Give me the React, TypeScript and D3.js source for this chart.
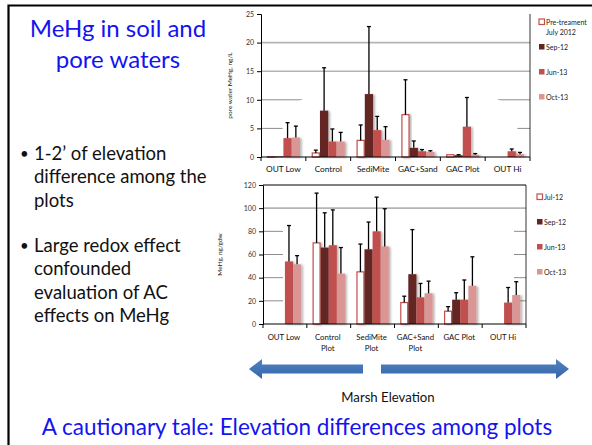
import React, { useEffect, useRef } from 'react'
import * as d3 from 'd3'

// categories / series
const categories = ['OUT Low', 'Control', 'SediMite', 'GAC+Sand', 'GAC Plot', 'OUT Hi']
const lowerLabels = [['OUT Low'], ['Control', 'Plot'], ['SediMite', 'Plot'], ['GAC+Sand', 'Plot'], ['GAC Plot'], ['OUT Hi']]
const seriesColors = ['#ffffff', '#632523', '#c0504d', '#d99694']

// pore water MeHg, ng/L (bar value, top of error bar)
const topLegend = [['Pre-treament', 'July 2012'], ['Sep-12'], ['Jun-13'], ['Oct-13']]
const topPre = [0.1, 0.7, 2.9, 7.4, 0.4, null]
const topPreErr = [null, 1.2, 5.6, 13.5, null, null]
const topSep = [0.1, 8.1, 11.0, 1.6, 0.3, null]
const topSepErr = [null, 15.6, 22.8, 2.8, 0.4, null]
const topJun = [3.3, 2.7, 4.7, 1.0, 5.3, 1.0]
const topJunErr = [6.0, 4.9, 7.1, 1.3, 10.4, 1.4]
const topOct = [3.4, 2.7, 3.0, 0.9, 0.4, 0.5]
const topOctErr = [5.4, 4.3, 5.3, 1.1, 0.6, 0.8]
const topTicks = [0, 5, 10, 15, 20, 25]

// soil MeHg, ng/gdw
const lowLegend = [['Jul-12'], ['Sep-12'], ['Jun-13'], ['Oct-13']]
const lowJul = [null, 70, 45, 18.5, 11, null]
const lowJulErr = [null, 113, 69, 24, 15, null]
const lowSep = [null, 66, 64.5, 43, 21, null]
const lowSepErr = [null, 96, 88, 81.5, 27, null]
const lowJun = [54, 68, 80, 23, 21, 18.5]
const lowJunErr = [85, 98.5, 109.5, 35, 38, 31.5]
const lowOct = [51.5, 43.5, 67, 26.5, 33, 25]
const lowOctErr = [59, 66, 99.5, 37, 58, 36.5]
const lowTicks = [0, 20, 40, 60, 80, 100, 120]

const blue = '#1414f0'
const chartFont = 'Lato, "Liberation Sans", sans-serif'

type Num = number | null

function drawChart(svg: any, opts: any) {
  const { x0, x1, y0, y1, max, ticks, values, errs, legend, legendY, legendX, yLabel, yLabelX, boxed, fullGrid, hole, xLabelY } = opts
  const g = svg.append('g')
  const x = d3.scaleBand().domain(categories).range([x0, x1])
  const inner = d3.scaleBand<number>().domain([0, 1, 2, 3])
    .range([x.bandwidth() * 0.13, x.bandwidth() * 0.87])
  const y = d3.scaleLinear().domain([0, max]).range([y0, y1])

  // gridlines
  g.selectAll('line.grid')
    .data(ticks.filter((t: number) => t > 0 && t < max))
    .enter().append('line')
    .attr('x1', x0).attr('x2', x1)
    .attr('y1', (d: number) => y(d)).attr('y2', (d: number) => y(d))
    .attr('stroke', (d: number) => fullGrid.includes(d) ? '#b4b4b4' : '#8c8c8c')
    .attr('stroke-width', (d: number) => fullGrid.includes(d) ? 1.6 : 1)

  // white patch that hides part of the grid in the original
  g.append('rect')
    .attr('x', hole[0]).attr('y', hole[1])
    .attr('width', hole[2]).attr('height', hole[3])
    .attr('rx', hole[4]).attr('fill', '#fff')

  // bars
  values.forEach((vals: Num[], s: number) => {
    vals.forEach((v, i) => {
      if (v == null) return
      const bx = (x(categories[i]) as number) + (inner(s) as number)
      const bw = inner.bandwidth()
      g.append('rect')
        .attr('x', bx + (s === 0 ? 0.6 : 0)).attr('y', y(v))
        .attr('width', bw - (s === 0 ? 1.2 : 0))
        .attr('height', Math.max(0.8, y0 - y(v)))
        .attr('fill', seriesColors[s])
        .attr('stroke', s === 0 ? '#c0504d' : 'none')
        .attr('stroke-width', 1.2)
        .attr('filter', 'url(#shadow)')
      const e = errs[s][i]
      if (e != null) {
        const cx = bx + bw / 2
        g.append('line').attr('x1', cx).attr('x2', cx)
          .attr('y1', y(v)).attr('y2', y(e))
          .attr('stroke', '#000').attr('stroke-width', 1.3)
        g.append('line').attr('x1', cx - 2).attr('x2', cx + 2)
          .attr('y1', y(e)).attr('y2', y(e))
          .attr('stroke', '#000').attr('stroke-width', 1.3)
      }
    })
  })

  // axes
  const yAxis = g.append('g')
    .attr('transform', `translate(${x0},0)`)
    .call(d3.axisLeft(y).tickValues(ticks).tickSize(4).tickPadding(3))
  yAxis.select('.domain').attr('stroke', '#000')
  yAxis.selectAll('text').attr('font-size', 7).attr('font-family', chartFont).attr('fill', '#333')

  const bounds = categories.map(c => x(c) as number).concat([x1])
  g.selectAll('line.xt').data(bounds).enter().append('line')
    .attr('x1', (d: number) => d).attr('x2', (d: number) => d)
    .attr('y1', y0).attr('y2', y0 + 4)
    .attr('stroke', '#000')
  g.append('line').attr('x1', x0).attr('x2', x1).attr('y1', y0).attr('y2', y0).attr('stroke', '#000')
  g.append('line').attr('x1', x1).attr('x2', x1).attr('y1', y1).attr('y2', y0).attr('stroke', '#000').attr('stroke-width', 0.8)
  if (boxed) {
    g.append('line').attr('x1', x0).attr('x2', x1).attr('y1', y1).attr('y2', y1).attr('stroke', '#000')
  }

  // category labels (single line for the upper chart)
  if (xLabelY != null) {
    categories.forEach((c) => {
      g.append('text')
        .attr('x', (x(c) as number) + x.bandwidth() / 2).attr('y', xLabelY)
        .attr('text-anchor', 'middle').attr('font-size', 8.3)
        .attr('font-family', chartFont).attr('fill', '#111')
        .text(c)
    })
  }

  // y label
  g.append('text')
    .attr('transform', `translate(${yLabelX},${(y0 + y1) / 2}) rotate(-90)`)
    .attr('text-anchor', 'middle').attr('font-size', 6.5)
    .attr('font-family', chartFont).attr('fill', '#222')
    .text(yLabel)

  // legend
  legend.forEach((lines: string[], s: number) => {
    const ly = legendY[s]
    g.append('rect')
      .attr('x', legendX).attr('y', ly - 3)
      .attr('width', 5.5).attr('height', 5.5)
      .attr('fill', seriesColors[s])
      .attr('stroke', s === 0 ? '#c0504d' : 'none').attr('stroke-width', 1.2)
    lines.forEach((t, k) => {
      g.append('text')
        .attr('x', legendX + 7).attr('y', ly + 2.5 + k * 10.5)
        .attr('font-size', 7).attr('font-family', chartFont).attr('fill', '#222')
        .text(t)
    })
  })

  return x
}

function Slide() {
  const ref = useRef<SVGSVGElement | null>(null)

  useEffect(() => {
    const svg = d3.select(ref.current)
    svg.selectAll('*').remove()

    const defs = svg.append('defs')
    const f = defs.append('filter').attr('id', 'shadow')
      .attr('x', '-20%').attr('y', '-5%').attr('width', '160%').attr('height', '115%')
    f.append('feDropShadow').attr('dx', 1.8).attr('dy', 0.6)
      .attr('stdDeviation', 0.9).attr('flood-color', '#000').attr('flood-opacity', 0.3)
    const grad = defs.append('linearGradient').attr('id', 'arrowGrad')
      .attr('x1', 0).attr('x2', 0).attr('y1', 0).attr('y2', 1)
    grad.append('stop').attr('offset', '0%').attr('stop-color', '#5283c4')
    grad.append('stop').attr('offset', '100%').attr('stop-color', '#3465a8')

    svg.append('rect').attr('width', 592).attr('height', 445).attr('fill', '#fff')

    // slide frame
    svg.append('path').attr('d', 'M8.5,450 V5.5 H600')
      .attr('fill', 'none').attr('stroke', '#000').attr('stroke-width', 2.2)

    drawChart(svg, {
      x0: 261, x1: 530, y0: 157, y1: 14, max: 25, ticks: topTicks,
      values: [topPre, topSep, topJun, topOct],
      errs: [topPreErr, topSepErr, topJunErr, topOctErr],
      legend: topLegend, legendY: [22, 47, 72, 97], legendX: 539,
      yLabel: 'pore  water MeHg, ng/L', yLabelX: 232, boxed: false,
      fullGrid: [15, 20], hole: [282, 92, 236, 64, 55], xLabelY: 172
    })

    const xb = drawChart(svg, {
      x0: 263, x1: 526, y0: 324, y1: 185, max: 120, ticks: lowTicks,
      values: [lowJul, lowSep, lowJun, lowOct],
      errs: [lowJulErr, lowSepErr, lowJunErr, lowOctErr],
      legend: lowLegend, legendY: [197, 222, 247, 272], legendX: 537,
      yLabel: 'MeHg, ng/gdw', yLabelX: 222, boxed: true,
      fullGrid: [100], hole: [283, 216, 231, 107, 6], xLabelY: null
    })

    // multi-line category labels under the lower chart
    lowerLabels.forEach((lines, i) => {
      lines.forEach((t, k) => {
        svg.append('text')
          .attr('x', (xb(categories[i]) as number) + xb.bandwidth() / 2 - 1)
          .attr('y', 340 + k * 11)
          .attr('text-anchor', 'middle').attr('font-size', 7.8)
          .attr('font-family', chartFont).attr('fill', '#111')
          .text(t)
      })
    })

    // elevation arrows
    const leftArrow = 'M249,369 L262,359 L262,364.5 L363,364.5 L363,373.5 L262,373.5 L262,379 Z'
    const rightArrow = 'M569,369 L556,359 L556,364.5 L381,364.5 L381,373.5 L556,373.5 L556,379 Z'
    svg.append('path').attr('d', leftArrow).attr('fill', 'url(#arrowGrad)')
    svg.append('path').attr('d', rightArrow).attr('fill', 'url(#arrowGrad)')

    svg.append('text').attr('x', 388).attr('y', 402)
      .attr('text-anchor', 'middle').attr('font-size', 13.2)
      .attr('font-family', chartFont).attr('fill', '#111')
      .text('Marsh Elevation')

    // left column text
    const title = ['MeHg in soil and', 'pore waters']
    title.forEach((t, i) => {
      svg.append('text').attr('x', 118).attr('y', 37 + i * 31)
        .attr('text-anchor', 'middle').attr('font-size', 24)
        .attr('font-family', chartFont).attr('fill', blue)
        .text(t)
    })

    const bullets = [
      ['1-2\u2019 of elevation', 'difference among the', 'plots'],
      ['Large redox effect', 'confounded', 'evaluation of AC', 'effects on MeHg']
    ]
    const bulletTop = [160, 252]
    bullets.forEach((lines, b) => {
      svg.append('text').attr('x', 20).attr('y', bulletTop[b] - 1)
        .attr('font-size', 15).attr('font-family', chartFont).attr('fill', '#111')
        .text('\u2022')
      lines.forEach((t, k) => {
        svg.append('text').attr('x', 34).attr('y', bulletTop[b] + k * 23.4)
          .attr('font-size', 18.5).attr('font-family', chartFont).attr('fill', '#111')
          .text(t)
      })
    })

    svg.append('text').attr('x', 297).attr('y', 435)
      .attr('text-anchor', 'middle').attr('font-size', 22.5)
      .attr('font-family', chartFont).attr('fill', blue)
      .text('A cautionary tale: Elevation differences among plots')
  }, [])

  return <svg ref={ref} width={592} height={445} style={{ position: 'absolute', left: 0, top: 0 }} />
}

export default function App() {
  return <Slide />
}
